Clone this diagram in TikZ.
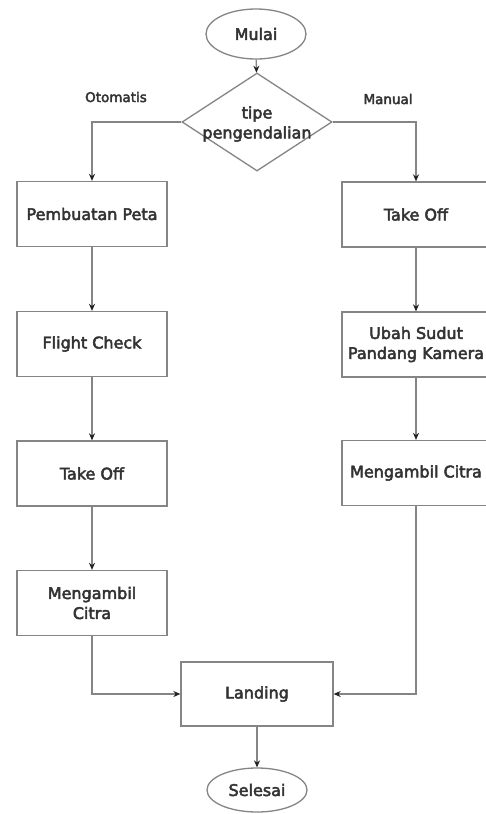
\documentclass[tikz,border=0pt]{standalone}
\usepackage{fontspec}
\setmainfont{DejaVu Sans}
\newfontfamily\medfont{DejaVu Sans}[BoldFont={DejaVu Sans}, BoldFeatures={FakeBold=3}]
\usetikzlibrary{shapes.geometric,arrows.meta}
\definecolor{linegray}{HTML}{858585}
\definecolor{textgray}{HTML}{333333}
\definecolor{tipgray}{HTML}{222222}
\begin{document}
\begin{tikzpicture}[x=1pt,y=-1pt,
  base/.style={draw=linegray, line width=1.3pt, text=textgray, font=\medfont\bfseries\fontsize{16}{20}\selectfont, align=center, inner sep=2pt},
  procbox/.style={base, rectangle, minimum width=150pt, minimum height=65pt},
  terminal/.style={base, ellipse, minimum width=100pt, minimum height=50pt},
  decision/.style={base, diamond, minimum width=150pt, minimum height=98pt, inner sep=0pt},
  plain/.style={text=textgray, font=\medfont\bfseries\fontsize{16}{20}\selectfont, align=center, inner sep=0pt},
  flow/.style={draw=linegray, line width=1.3pt, -{Stealth[length=7pt,width=6pt,color=tipgray]}},
  lbl/.style={text=textgray, font=\medfont\bfseries\fontsize{13.5}{16}\selectfont}
]
\useasboundingbox[fill=white] (0,0) rectangle (486,814);
\node[terminal] (start) at (256,34) {Mulai};
\node[decision] (dec) at (257,122) {};
\node[plain] (dectext) at (257,124) {tipe\\pengendalian};
\node[procbox] (a1) at (92,214) {Pembuatan Peta};
\node[procbox] (a2) at (92,344) {Flight Check};
\node[procbox] (a3) at (92,473.5) {Take Off};
\node[procbox] (a4) at (92,603) {Mengambil\\Citra};
\node[procbox, minimum width=148pt] (b1) at (416,214.5) {Take Off};
\node[procbox, minimum width=148pt] (b2) at (416,344.5) {Ubah Sudut\\Pandang Kamera};
\node[procbox, minimum width=148pt] (b3) at (416,473) {Mengambil Citra};
\node[procbox, minimum width=152pt, minimum height=64pt] (land) at (257,694) {Landing};
\node[terminal, minimum height=44pt] (end) at (257,790) {Selesai};
\node[lbl] (l1) at (116,97) {Otomatis};
\node[lbl] (l2) at (388,99) {Manual};
\draw[flow] (start) -- (dec);
\draw[flow] (dec.west) -| (a1.north);
\draw[flow] (dec.east) -| (b1.north);
\draw[flow] (a1) -- (a2);
\draw[flow] (a2) -- (a3);
\draw[flow] (a3) -- (a4);
\draw[flow] (b1) -- (b2);
\draw[flow] (b2) -- (b3);
\draw[flow] (a4.south) |- (land.west);
\draw[flow] (b3.south) |- (land.east);
\draw[flow] (land) -- (end);
\end{tikzpicture}
\end{document}
